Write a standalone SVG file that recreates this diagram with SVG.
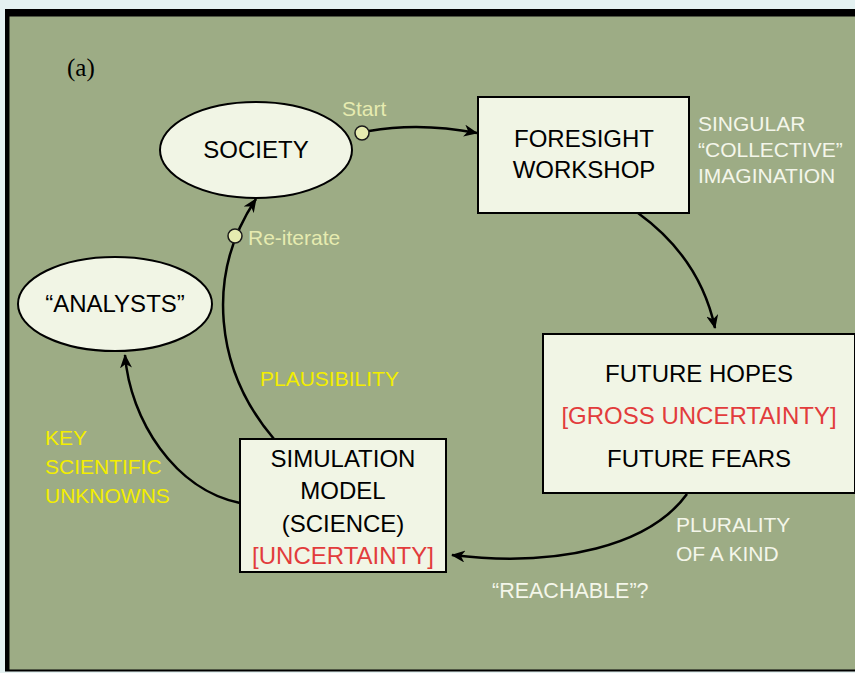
<svg xmlns="http://www.w3.org/2000/svg" width="855" height="673" viewBox="0 0 855 673">
<defs>
<marker id="ah" viewBox="0 0 14 12" markerWidth="14" markerHeight="12" refX="13" refY="6" orient="auto" markerUnits="userSpaceOnUse">
<path d="M0,0 L14,6 L0,12 L4,6 Z" fill="#000"/>
</marker>
<style>
.node{fill:#f1f5e5;stroke:#000;stroke-width:2}
.t{font-family:"Liberation Sans",Arial,sans-serif;font-size:24px;fill:#000;text-anchor:middle}
.red{fill:#e23c3c}
.w{font-family:"Liberation Sans",Arial,sans-serif;font-size:21px;fill:#f4f6ea}
.y{font-family:"Liberation Sans",Arial,sans-serif;font-size:21px;fill:#f3ee00}
.p{font-family:"Liberation Sans",Arial,sans-serif;font-size:21px;fill:#e6ebb0}
.c{fill:none;stroke:#000;stroke-width:2.5}
.dot{fill:#e6ebb0;stroke:#1a1a1a;stroke-width:1.5}
</style>
</defs>
<rect x="0" y="0" width="855" height="673" fill="#e4f1f1"/>
<rect x="5" y="9" width="860" height="662.5" fill="#000"/>
<rect x="9.5" y="16.5" width="850" height="653" fill="#9dac85"/>
<text x="67" y="76" font-family="'Liberation Serif',serif" font-size="25" fill="#000">(a)</text>

<g id="connectors">
<path class="c" d="M369,131 Q420,122 477,133" marker-end="url(#ah)"/>
<path class="c" d="M638,213 Q700,258 715,328" marker-end="url(#ah)"/>
<path class="c" d="M687,494 C650,545 560,568 452,555" marker-end="url(#ah)"/>
<path class="c" d="M240,503 C175,490 130,420 125,355" marker-end="url(#ah)"/>
<path class="c" d="M274,439 C215,370 205,275 256,199" marker-end="url(#ah)"/>
<circle class="dot" cx="362" cy="133" r="7"/>
<circle class="dot" cx="235" cy="236" r="7"/>
<text class="p" x="342" y="116">Start</text>
<text class="p" x="248" y="245">Re-iterate</text>
<text class="y" x="260" y="386">PLAUSIBILITY</text>
<text class="y" x="45" y="445">KEY</text>
<text class="y" x="45" y="474">SCIENTIFIC</text>
<text class="y" x="45" y="503">UNKNOWNS</text>
<text class="w" x="676" y="532">PLURALITY</text>
<text class="w" x="676" y="561">OF A KIND</text>
<text class="w" x="492" y="598" style="font-size:21.5px">“REACHABLE”?</text>
<text class="w" x="698" y="131">SINGULAR</text>
<text class="w" x="698" y="157">“COLLECTIVE”</text>
<text class="w" x="698" y="183">IMAGINATION</text>
</g>

<g id="society">
<ellipse class="node" cx="256" cy="150" rx="96" ry="48"/>
<text class="t" x="256" y="158">SOCIETY</text>
</g>
<g id="foresight">
<rect class="node" x="478" y="97" width="211" height="116"/>
<text class="t" x="584" y="147">FORESIGHT</text>
<text class="t" x="584" y="178">WORKSHOP</text>
</g>
<g id="future">
<rect class="node" x="543" y="334" width="312" height="159"/>
<text class="t" x="699" y="382">FUTURE HOPES</text>
<text class="t red" x="699" y="424">[GROSS UNCERTAINTY]</text>
<text class="t" x="699" y="467">FUTURE FEARS</text>
</g>
<g id="simulation">
<rect class="node" x="240" y="439" width="206" height="133"/>
<text class="t" x="343" y="467">SIMULATION</text>
<text class="t" x="343" y="499">MODEL</text>
<text class="t" x="343" y="532">(SCIENCE)</text>
<text class="t red" x="343" y="564">[UNCERTAINTY]</text>
</g>
<g id="analysts">
<ellipse class="node" cx="115" cy="304" rx="97" ry="47"/>
<text class="t" x="115" y="312">“ANALYSTS”</text>
</g>
</svg>
